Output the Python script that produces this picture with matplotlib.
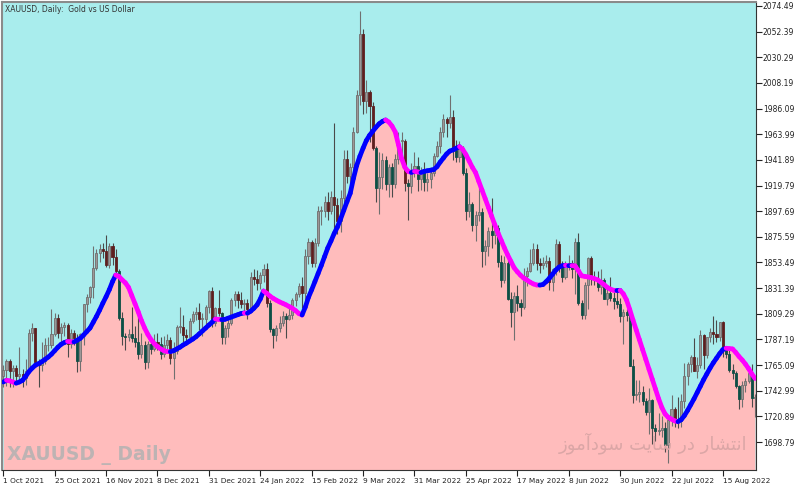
import matplotlib
matplotlib.use('Agg')
import matplotlib.pyplot as plt
from matplotlib.collections import LineCollection
from matplotlib.patches import Rectangle
import numpy as np

# XAUUSD daily, 1 Oct 2021 .. 29 Aug 2022
opens = [
    # Oct
    1756, 1761, 1769, 1760, 1763, 1756, 1757, 1754, 1760, 1793, 1797, 1768, 1765, 1769, 1782, 1782, 1792, 1806, 1793, 1798, 1800,
    # Nov
    1783, 1793, 1788, 1769, 1792, 1818, 1824, 1832, 1849, 1862, 1865, 1863, 1851, 1868, 1858, 1846, 1806, 1790, 1789, 1792, 1788, 1785,
    # Dec
    1775, 1782, 1768, 1783, 1779, 1785, 1783, 1775, 1782, 1787, 1771, 1777, 1798, 1798, 1791, 1789, 1803, 1809, 1811, 1805, 1805, 1815,
    # Jan
    1829, 1801, 1814, 1810, 1789, 1797, 1801, 1821, 1826, 1821, 1818, 1819, 1813, 1841, 1839, 1836, 1843, 1848, 1819, 1796, 1791,
    # Feb
    1797, 1801, 1807, 1805, 1808, 1821, 1826, 1833, 1827, 1859, 1871, 1853, 1870, 1898, 1898, 1906, 1898, 1910, 1903, 1889,
    # Mar
    1909, 1943, 1928, 1936, 1966, 1998, 2050, 1993, 2000, 1988, 1952, 1918, 1927, 1942, 1921, 1936, 1921, 1943, 1958, 1958, 1922, 1919, 1933,
    # Apr
    1937, 1925, 1932, 1923, 1925, 1931, 1945, 1954, 1966, 1977, 1974, 1979, 1950, 1944, 1951, 1931, 1898, 1904, 1886, 1894,
    # May
    1897, 1863, 1868, 1881, 1877, 1883, 1854, 1838, 1853, 1822, 1811, 1825, 1819, 1815, 1842, 1846, 1853, 1865, 1853, 1851, 1853, 1855,
    # Jun
    1837, 1848, 1869, 1850, 1841, 1852, 1853, 1848, 1871, 1819, 1808, 1834, 1857, 1840, 1839, 1832, 1838, 1822, 1827, 1823, 1820, 1818,
    # Jul
    1807, 1811, 1808, 1764, 1739, 1740, 1742, 1734, 1725, 1735, 1711, 1708, 1709, 1711, 1696, 1718, 1727, 1719, 1717, 1734, 1756,
    # Aug
    1766, 1772, 1760, 1765, 1791, 1774, 1789, 1794, 1792, 1789, 1802, 1779, 1775, 1761, 1758, 1747, 1736, 1748, 1751, 1758, 1737,
]
highs = [
    1765, 1770, 1770, 1765, 1765, 1781, 1762, 1770, 1796, 1801, 1797, 1770, 1785, 1788, 1789, 1813, 1810, 1809, 1801, 1802, 1801,
    1796, 1795, 1792, 1793, 1818, 1826, 1833, 1868, 1865, 1869, 1870, 1877, 1870, 1870, 1865, 1848, 1811, 1793, 1796, 1815, 1799, 1808,
    1793, 1786, 1786, 1787, 1792, 1793, 1789, 1790, 1792, 1789, 1785, 1800, 1815, 1808, 1796, 1806, 1812, 1815, 1819, 1810, 1817, 1830,
    1832, 1815, 1830, 1811, 1800, 1804, 1823, 1829, 1829, 1828, 1822, 1822, 1845, 1848, 1847, 1845, 1852, 1853, 1821, 1797, 1800,
    1807, 1812, 1810, 1815, 1823, 1828, 1836, 1841, 1865, 1875, 1873, 1875, 1902, 1902, 1911, 1914, 1915, 1974, 1909, 1916,
    1950, 1950, 1939, 1970, 2002, 2070, 2055, 2011, 2002, 1992, 1954, 1949, 1948, 1945, 1938, 1939, 1947, 1966, 1966, 1960, 1925, 1939, 1949,
    1944, 1936, 1940, 1931, 1936, 1948, 1958, 1970, 1981, 1979, 1998, 1985, 1959, 1958, 1954, 1935, 1914, 1906, 1898, 1920,
    1900, 1873, 1884, 1909, 1889, 1886, 1860, 1859, 1858, 1828, 1828, 1834, 1822, 1849, 1850, 1865, 1870, 1869, 1857, 1858, 1860, 1858,
    1849, 1874, 1872, 1855, 1855, 1860, 1856, 1875, 1879, 1821, 1837, 1858, 1859, 1846, 1846, 1848, 1840, 1832, 1841, 1829, 1830, 1823,
    1813, 1813, 1812, 1770, 1752, 1752, 1747, 1737, 1745, 1736, 1714, 1724, 1721, 1716, 1720, 1739, 1729, 1738, 1740, 1767, 1768,
    1774, 1788, 1772, 1795, 1792, 1789, 1797, 1807, 1804, 1802, 1803, 1781, 1781, 1766, 1760, 1748, 1751, 1754, 1764, 1766, 1740,
]
lows = [
    1746, 1747, 1746, 1746, 1751, 1750, 1746, 1748, 1758, 1786, 1764, 1746, 1760, 1766, 1777, 1780, 1790, 1788, 1782, 1790, 1772,
    1780, 1782, 1759, 1760, 1782, 1811, 1819, 1823, 1847, 1854, 1857, 1850, 1849, 1851, 1842, 1804, 1782, 1778, 1786, 1785, 1781, 1770,
    1771, 1762, 1763, 1775, 1777, 1778, 1770, 1772, 1779, 1766, 1753, 1775, 1793, 1785, 1782, 1786, 1801, 1804, 1795, 1790, 1797, 1810,
    1798, 1799, 1807, 1783, 1783, 1789, 1800, 1816, 1814, 1814, 1812, 1805, 1811, 1834, 1830, 1831, 1837, 1815, 1794, 1780, 1786,
    1794, 1799, 1788, 1804, 1805, 1816, 1824, 1814, 1820, 1852, 1850, 1850, 1868, 1886, 1893, 1890, 1895, 1878, 1878, 1880,
    1900, 1922, 1921, 1930, 1965, 1989, 1981, 1982, 1957, 1950, 1906, 1895, 1917, 1916, 1910, 1910, 1918, 1938, 1945, 1915, 1890, 1913, 1927,
    1915, 1916, 1915, 1915, 1918, 1928, 1944, 1948, 1962, 1962, 1969, 1942, 1940, 1940, 1929, 1890, 1893, 1881, 1872, 1889,
    1850, 1851, 1859, 1866, 1869, 1850, 1832, 1836, 1821, 1798, 1787, 1812, 1807, 1813, 1833, 1845, 1851, 1847, 1844, 1848, 1850, 1830,
    1829, 1843, 1845, 1837, 1839, 1847, 1840, 1826, 1817, 1805, 1805, 1813, 1834, 1834, 1829, 1826, 1822, 1817, 1820, 1813, 1814, 1802,
    1783, 1803, 1764, 1732, 1735, 1733, 1731, 1722, 1706, 1697, 1700, 1705, 1703, 1690, 1681, 1713, 1712, 1711, 1712, 1728, 1748,
    1759, 1760, 1754, 1763, 1762, 1771, 1785, 1783, 1785, 1786, 1772, 1771, 1759, 1753, 1745, 1727, 1729, 1742, 1750, 1729, 1720,
]
closes = [
    1761, 1769, 1760, 1763, 1756, 1757, 1754, 1760, 1793, 1797, 1768, 1765, 1769, 1782, 1782, 1792, 1806, 1793, 1798, 1800, 1783,
    1793, 1788, 1769, 1792, 1818, 1824, 1832, 1849, 1862, 1865, 1863, 1851, 1868, 1858, 1846, 1806, 1790, 1789, 1792, 1788, 1785, 1775,
    1782, 1768, 1783, 1779, 1785, 1783, 1775, 1782, 1787, 1771, 1777, 1798, 1798, 1791, 1789, 1803, 1809, 1811, 1805, 1805, 1815, 1829,
    1801, 1814, 1810, 1789, 1797, 1801, 1821, 1826, 1821, 1818, 1819, 1813, 1841, 1839, 1836, 1843, 1848, 1819, 1796, 1791, 1797,
    1801, 1807, 1805, 1808, 1821, 1826, 1833, 1827, 1859, 1871, 1853, 1870, 1898, 1898, 1906, 1898, 1910, 1903, 1889, 1909,
    1943, 1928, 1936, 1966, 1998, 2050, 1993, 2000, 1988, 1952, 1918, 1927, 1942, 1921, 1936, 1921, 1943, 1958, 1958, 1922, 1919, 1933, 1937,
    1925, 1932, 1923, 1925, 1931, 1945, 1954, 1966, 1977, 1974, 1979, 1950, 1944, 1951, 1931, 1898, 1904, 1886, 1894, 1897,
    1863, 1868, 1881, 1877, 1883, 1854, 1838, 1853, 1822, 1811, 1825, 1819, 1815, 1842, 1846, 1853, 1865, 1853, 1851, 1853, 1855, 1837,
    1848, 1869, 1850, 1841, 1852, 1853, 1848, 1871, 1819, 1808, 1834, 1857, 1840, 1839, 1832, 1838, 1822, 1827, 1823, 1820, 1818, 1807,
    1811, 1808, 1764, 1739, 1740, 1742, 1734, 1725, 1735, 1711, 1708, 1709, 1711, 1696, 1718, 1727, 1719, 1717, 1734, 1756, 1766,
    1772, 1760, 1765, 1791, 1774, 1789, 1794, 1792, 1789, 1802, 1779, 1775, 1761, 1758, 1747, 1736, 1748, 1751, 1758, 1737, 1738,
]

# the smoothed moving average line (blue rising / magenta falling), read per bar
ma = [
    1750.5, 1752.0, 1751.5, 1750.5, 1749.5, 1750.5, 1752.0, 1755.5, 1759.5, 1762.5, 1765.0, 1766.3, 1768.0, 1770.0, 1772.0, 1774.5,
    1777.5, 1780.5, 1783.0, 1784.5, 1785.5, 1785.2, 1785.0, 1786.5, 1788.2, 1791.0, 1794.0, 1797.0, 1802.0, 1807.0, 1812.5, 1818.5,
    1824.0, 1830.0, 1837.0, 1842.7, 1841.5, 1838.5, 1836.0, 1832.0, 1825.0, 1818.0, 1811.0, 1803.5, 1797.0, 1791.5, 1787.0, 1783.5,
    1781.0, 1779.0, 1777.5, 1776.8, 1776.6, 1777.5, 1779.0, 1780.5, 1782.4, 1784.0, 1785.8, 1787.5, 1789.5, 1792.0, 1794.5, 1797.0,
    1799.6, 1802.0, 1804.8, 1804.5, 1804.2, 1804.5, 1805.5, 1806.5, 1807.5, 1808.5, 1809.5, 1810.0, 1809.8, 1811.5, 1814.0, 1817.0,
    1822.0, 1828.9, 1827.0, 1824.5, 1822.6, 1821.0, 1819.5, 1818.3, 1817.0, 1815.5, 1814.0, 1812.0, 1809.5, 1808.2, 1815.0, 1823.5,
    1830.0, 1837.0, 1844.0, 1851.0, 1858.5, 1866.0, 1872.0, 1878.5, 1884.0, 1891.0, 1898.5, 1906.0, 1913.1, 1926.0, 1937.0, 1945.0,
    1952.0, 1958.5, 1963.0, 1966.5, 1970.0, 1973.0, 1975.0, 1976.3, 1974.5, 1971.0, 1966.0, 1955.0, 1943.0, 1935.5, 1932.0, 1931.0,
    1932.0, 1931.5, 1931.0, 1932.0, 1932.5, 1933.0, 1933.5, 1936.0, 1940.0, 1943.5, 1947.0, 1949.5, 1950.5, 1952.0, 1953.3, 1951.0,
    1946.5, 1941.0, 1935.5, 1931.0, 1923.5, 1916.0, 1908.5, 1901.0, 1893.5, 1886.0, 1879.0, 1872.5, 1866.0, 1860.0, 1854.5, 1849.0,
    1845.5, 1842.5, 1840.0, 1838.4, 1836.5, 1835.0, 1834.1, 1834.0, 1834.5, 1837.0, 1840.0, 1843.5, 1847.0, 1849.5, 1850.7, 1851.0,
    1850.7, 1850.8, 1850.5, 1846.5, 1842.0, 1841.5, 1841.0, 1840.5, 1839.5, 1838.5, 1836.5, 1834.5, 1832.0, 1830.5, 1829.5, 1829.3,
    1829.5, 1826.5, 1821.2, 1813.0, 1804.0, 1795.5, 1787.0, 1778.5, 1770.0, 1761.5, 1753.0, 1744.5, 1736.0, 1728.5, 1723.0, 1720.0,
    1718.5, 1717.0, 1716.3, 1718.0, 1721.5, 1726.0, 1731.0, 1736.0, 1741.5, 1747.0, 1752.5, 1757.5, 1762.5, 1767.0, 1771.0, 1775.0,
    1778.5, 1779.6, 1779.3, 1779.0, 1776.0, 1772.5, 1769.5, 1766.0, 1762.0, 1757.5, 1753.5,
]

date_labels = ['1 Oct 2021', '25 Oct 2021', '16 Nov 2021', '8 Dec 2021', '31 Dec 2021', '24 Jan 2022',
               '15 Feb 2022', '9 Mar 2022', '31 Mar 2022', '25 Apr 2022', '17 May 2022', '8 Jun 2022',
               '30 Jun 2022', '22 Jul 2022', '15 Aug 2022']
price_ticks = [1698.79, 1720.89, 1742.99, 1765.09, 1787.19, 1809.29, 1831.39, 1853.49, 1875.59,
               1897.69, 1919.79, 1941.89, 1963.99, 1986.09, 2008.19, 2030.29, 2052.39, 2074.49]

o = np.array(opens, float)
h = np.array(highs, float)
l = np.array(lows, float)
c = np.array(closes, float)
m = np.array(ma, float)
x = np.arange(len(c))

fig = plt.figure(figsize=(8, 4.87), dpi=100)
ax = fig.add_axes([2 / 800, 17 / 487, 754 / 800, 468 / 487])
y0, y1 = 1674.7, 2077.9
ax.set_xlim(-0.4, len(c) - 0.7)
ax.set_ylim(y0, y1)

# background: cyan above the average, pink below it
ax.set_facecolor('#a9eded')
ax.fill_between(x, y0, m, color='#ffbcbc', lw=0, zorder=1)

# candles
for i in range(len(c)):
    up = c[i] >= o[i]
    if up:
        face, edge, wick = '#9d9797', '#6f6f6f', '#707070'
    else:
        mid = (o[i] + c[i]) / 2
        face = '#5e1f1f' if mid > m[i] else '#0d4f46'
        edge, wick = face, '#4a4a4a'
    ax.vlines(i, l[i], h[i], color=wick, lw=0.8, zorder=2)
    bot, top = min(o[i], c[i]), max(o[i], c[i])
    ax.add_patch(Rectangle((i - 0.32, bot), 0.64, max(top - bot, 0.6),
                           facecolor=face, edgecolor=edge, lw=0.6, zorder=3))

# moving average, coloured by direction
pts = np.column_stack([x, m])
segs = np.stack([pts[:-1], pts[1:]], axis=1)
cols = ['#0000ff' if m[i + 1] >= m[i] else '#ff00ff' for i in range(len(m) - 1)]
ax.add_collection(LineCollection(segs, colors=cols, linewidths=3.4, capstyle='round', zorder=4))

# axes
ax.yaxis.tick_right()
ax.set_yticks(price_ticks)
ax.set_yticklabels(['%.2f' % v for v in price_ticks], fontsize=5.5, color='#222222')
ax.tick_params(axis='y', length=4, width=0.8, pad=1, colors='#222222')
ax.set_xticks(np.arange(0, 16 * len(date_labels), 16))
ax.set_xticklabels(date_labels, fontsize=5.3, color='#222222', ha='left')
ax.tick_params(axis='x', length=4, width=0.8, pad=1.5, colors='#222222')
for s in ['left', 'top']:
    ax.spines[s].set_color('#8a8a8a')
    ax.spines[s].set_linewidth(1.5)
for s in ['right', 'bottom']:
    ax.spines[s].set_color('#333333')
    ax.spines[s].set_linewidth(0.8)

ax.text(0.004, 0.993, 'XAUUSD, Daily:  Gold vs US Dollar', transform=ax.transAxes,
        fontsize=5.5, color='#333333', va='top', ha='left', zorder=6)
ax.text(0.007, 0.01, 'XAUUSD _ Daily', transform=ax.transAxes, fontsize=13.5,
        fontweight='bold', color='#bdb3b3', va='bottom', ha='left', zorder=5)

# "انتشار در سایت سودآموز" in shaped presentation forms, visual order
persian = ('\uFEAF\uFEEE\uFEE3\uFE81\uFEA9\uFEEE\uFEB3 '
           '\uFE96\uFEF3\uFE8E\uFEB3 '
           '\uFEAD\uFEA9 '
           '\uFEAD\uFE8E\uFEB8\uFE98\uFEE7\uFE8D')
ax.text(0.988, 0.035, persian, transform=ax.transAxes, fontsize=13, color='#dba6a6',
        va='bottom', ha='right', zorder=5)

fig.savefig('out.png', dpi=100)
